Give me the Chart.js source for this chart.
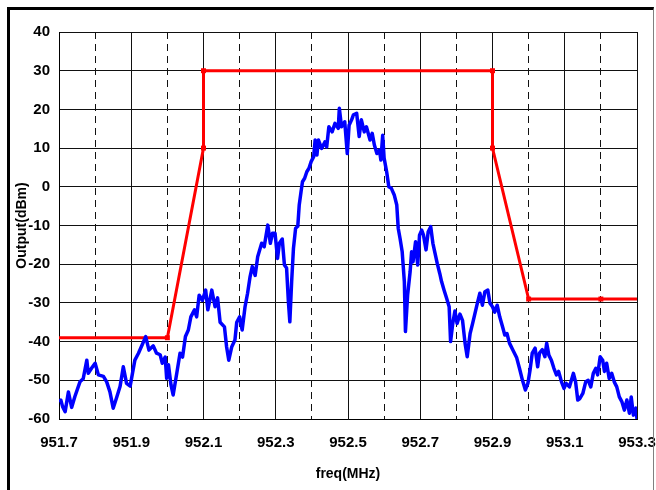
<!DOCTYPE html>
<html>
<head>
<meta charset="utf-8">
<script src="https://cdn.jsdelivr.net/npm/chart.js@4/dist/chart.umd.min.js"></script>
<style>
  html, body { margin: 0; padding: 0; background: #fff; }
  #wrap { position: relative; width: 656px; height: 490px; overflow: hidden; }
  #frame {
    position: absolute; left: 7px; top: 7px; width: 643px; height: 520px;
    border-top: 3px solid #000; border-left: 3px solid #000; border-right: 1px solid #808080;
    pointer-events: none;
  }
</style>
</head>
<body>
<div id="wrap">
  <canvas id="chart" width="656" height="490"></canvas>
  <div id="frame"></div>
</div>
<script>
/* ── Data ──────────────────────────────────────────────────── */
var xTicks      = [951.7, 951.8, 951.9, 952.0, 952.1, 952.2, 952.3, 952.4, 952.5,
                   952.6, 952.7, 952.8, 952.9, 953.0, 953.1, 953.2, 953.3];
var xTickLabels = ['951.7', '951.9', '952.1', '952.3', '952.5', '952.7', '952.9', '953.1', '953.3'];
var yTicks      = [-60, -50, -40, -30, -20, -10, 0, 10, 20, 30, 40];

// spectrum mask (red)
var maskFreq  = [951.7, 952.0, 952.1, 952.1, 952.9, 952.9, 953.0, 953.2, 953.3];
var maskLevel = [-39,   -39,   10,    30,    30,    10,    -29,   -29,   -29];
var maskDots  = [0,     3.5,   3.5,   3.5,   3.5,   3.5,   3.5,   3.5,   0];

// measured spectrum (blue)
var specFreq = [
  951.700, 951.705, 951.710, 951.717, 951.726, 951.735, 951.744, 951.758, 951.767, 951.777,
  951.781, 951.790, 951.800, 951.809, 951.823, 951.832, 951.841, 951.850, 951.860, 951.869,
  951.878, 951.887, 951.897, 951.910, 951.920, 951.930, 951.940, 951.949, 951.961, 951.970,
  951.980, 951.986, 951.994, 951.998, 952.003, 952.010, 952.016, 952.026, 952.035, 952.042,
  952.050, 952.058, 952.065, 952.075, 952.081, 952.088, 952.097, 952.106, 952.112, 952.123,
  952.132, 952.139, 952.146, 952.158, 952.164, 952.170, 952.178, 952.187, 952.192, 952.200,
  952.207, 952.215, 952.222, 952.229, 952.235, 952.243, 952.250, 952.261, 952.268, 952.278,
  952.285, 952.291, 952.298, 952.305, 952.310, 952.318, 952.324, 952.330, 952.335, 952.339,
  952.344, 952.349, 952.355, 952.361, 952.365, 952.370, 952.374, 952.380, 952.386, 952.392,
  952.398, 952.405, 952.409, 952.414, 952.418, 952.427, 952.436, 952.441, 952.447, 952.456,
  952.464, 952.473, 952.476, 952.482, 952.491, 952.498, 952.503, 952.510, 952.515, 952.524,
  952.531, 952.537, 952.545, 952.551, 952.561, 952.567, 952.573, 952.580, 952.587, 952.591,
  952.596, 952.600, 952.607, 952.613, 952.620, 952.628, 952.635, 952.639, 952.644, 952.650,
  952.656, 952.659, 952.665, 952.672, 952.676, 952.680, 952.687, 952.693, 952.698, 952.704,
  952.709, 952.716, 952.722, 952.729, 952.735, 952.741, 952.747, 952.754, 952.759, 952.766,
  952.773, 952.780, 952.784, 952.790, 952.796, 952.802, 952.810, 952.817, 952.824, 952.830,
  952.838, 952.845, 952.851, 952.858, 952.865, 952.872, 952.879, 952.887, 952.893, 952.900,
  952.906, 952.913, 952.920, 952.928, 952.934, 952.940, 952.947, 952.956, 952.967, 952.975,
  952.983, 952.991, 952.998, 953.004, 953.010, 953.018, 953.025, 953.030, 953.038, 953.045,
  953.050, 953.056, 953.063, 953.070, 953.077, 953.083, 953.091, 953.098, 953.104, 953.113,
  953.124, 953.130, 953.136, 953.142, 953.150, 953.158, 953.165, 953.172, 953.179, 953.186,
  953.191, 953.198, 953.205, 953.210, 953.216, 953.223, 953.230, 953.237, 953.244, 953.251,
  953.258, 953.265, 953.272, 953.279, 953.284, 953.290, 953.297, 953.300
];
var specLevel = [
  -55.5, -55.1, -56.8, -58.1, -53.0, -57.0, -54.2, -50.4, -49.6, -44.8,
  -48.2, -46.9, -45.6, -48.6, -49.0, -50.4, -53.0, -57.2, -54.3, -51.6,
  -46.5, -50.8, -51.5, -44.8, -43.0, -40.9, -38.7, -42.2, -41.1, -43.0,
  -43.4, -45.6, -44.0, -49.5, -46.0, -51.2, -53.8, -48.2, -43.0, -44.0,
  -38.7, -37.0, -33.6, -31.8, -33.6, -28.0, -29.3, -26.7, -31.8, -26.7,
  -31.0, -28.7, -35.0, -36.2, -41.4, -44.8, -41.4, -39.6, -35.0, -33.6,
  -37.0, -31.0, -27.5, -23.2, -20.6, -22.9, -18.1, -14.6, -15.5,  -9.9,
  -14.6, -12.0, -12.0, -18.5, -14.6, -13.5, -20.2, -21.0, -29.7, -34.9,
  -24.5, -15.9, -10.7, -10.2,  -4.7,  -1.3,   1.3,   2.2,   3.9,   4.8,
    6.5,   7.8,  12.1,   8.2,  12.1,   9.9,  11.6,  10.3,  15.5,  14.2,
   16.4,  15.1,  20.3,  15.5,  16.8,   8.6,  15.9,  17.3,  18.6,  19.0,
   13.0,  17.3,  14.2,  15.5,  12.1,  13.8,  10.8,   8.6,   9.5,   6.9,
   13.3,   7.4,   3.9,   0.0,  -0.4,  -2.1,  -4.7, -10.7, -13.3, -16.8,
  -24.5, -37.4, -28.0, -21.9, -16.8, -19.4, -14.2, -20.2, -12.5, -11.2,
  -12.5, -16.3, -11.6, -10.3, -14.6, -17.2, -19.8, -22.4, -24.5, -26.7,
  -28.8, -31.0, -40.0, -35.3, -32.1, -35.3, -32.9, -34.5, -40.4, -43.9,
  -37.9, -35.3, -32.9, -30.1, -27.5, -30.6, -27.1, -26.7, -30.1, -31.0,
  -32.4, -30.6, -33.6, -36.2, -38.3, -37.9, -40.4, -42.1, -44.2, -47.0,
  -50.0, -52.5, -50.8, -47.3, -43.0, -41.7, -46.5, -43.0, -42.1, -43.9,
  -40.4, -43.5, -44.8, -46.9, -48.6, -47.7, -50.4, -52.1, -50.8, -51.7,
  -48.2, -50.4, -55.1, -54.7, -53.4, -50.4, -50.0, -51.7, -48.2, -46.9,
  -48.6, -43.9, -44.8, -47.7, -45.6, -49.5, -48.2, -50.4, -51.7, -54.3,
  -55.5, -57.7, -55.1, -58.5, -54.3, -59.0, -57.2, -60.0
];

/* ── Chart ─────────────────────────────────────────────────── */
var tickFont  = { family: "'Liberation Sans', Arial, sans-serif", size: 15, weight: 'bold' };
var titleFont = { family: "'Liberation Sans', Arial, sans-serif", size: 14, weight: 'bold' };

function toPoints(xs, ys) {
    return xs.map(function (x, i) { return { x: x, y: ys[i] }; });
}

new Chart(document.getElementById('chart'), {
    type: 'line',
    data: {
        datasets: [{
            label: 'spectrum',
            data: toPoints(specFreq, specLevel),
            borderColor: '#0000ff',
            borderWidth: 3.5,
            borderJoinStyle: 'round',
            pointRadius: 0,
            tension: 0,
        }, {
            label: 'mask',
            data: toPoints(maskFreq, maskLevel),
            borderColor: '#ff0000',
            backgroundColor: '#ff0000',
            borderWidth: 3,
            pointStyle: 'rect',
            pointRadius: maskDots,
            pointBorderWidth: 0,
            tension: 0,
        }],
    },
    options: {
        responsive: false,
        animation: false,
        events: [],
        layout: { padding: { top: 32, right: 19, bottom: 0, left: 0 } },
        plugins: { legend: { display: false }, tooltip: { enabled: false } },
        scales: {
            x: {
                type: 'linear',
                min: 951.7,
                max: 953.3,
                afterBuildTicks: function (axis) {
                    axis.ticks = xTicks.map(function (v) { return { value: v }; });
                },
                afterFit: function (axis) {
                    axis.height = 71;
                    // tick padding is vertical here, keep it out of the side margins
                    axis.paddingLeft = 0;
                    axis.paddingRight = 19;
                },
                ticks: {
                    autoSkip: false,
                    maxRotation: 0,
                    padding: 15,
                    color: '#000',
                    font: tickFont,
                    callback: function (v) {
                        var s = Number(v).toFixed(1);
                        return xTickLabels.indexOf(s) >= 0 ? s : '';
                    },
                },
                grid: { color: '#111', lineWidth: 1, drawTicks: false },
                border: {
                    color: '#000',
                    dash: function (ctx) {
                        if (!ctx.tick) return [];
                        return Math.round(ctx.tick.value * 10) % 2 === 0 ? [7, 5] : [];
                    },
                },
                title: {
                    display: true,
                    text: 'freq(MHz)',
                    color: '#000',
                    font: titleFont,
                    padding: { top: 4, bottom: 7 },
                },
            },
            y: {
                min: -60,
                max: 40,
                afterBuildTicks: function (axis) {
                    axis.ticks = yTicks.map(function (v) { return { value: v }; });
                },
                afterFit: function (axis) { axis.width = 59; },
                ticks: { padding: 9, color: '#000', font: tickFont },
                grid: { color: '#111', lineWidth: 1, drawTicks: false },
                border: { color: '#000' },
                title: {
                    display: true,
                    text: 'Output(dBm)',
                    color: '#000',
                    font: titleFont,
                    padding: { top: 14, bottom: 4 },
                },
            },
        },
    },
});
</script>
</body>
</html>
